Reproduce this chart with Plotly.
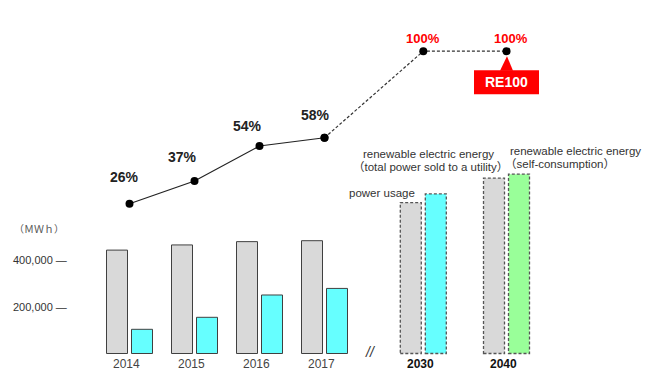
import plotly.graph_objects as go

# ---------------- data ----------------
years = ["2014", "2015", "2016", "2017", "2030", "2040"]
power_usage = [440000, 462000, 476000, 480000, 642000, 746000]
renewable = [103000, 154000, 249000, 277000, 679000, 763000]
re_ratio = [26, 37, 54, 58, 100, 100]
ratio_labels = ["26%", "37%", "54%", "58%", "100%", "100%"]
projected = [False, False, False, False, True, True]
y_ticks = [200000, 400000]
y_tick_labels = ["200,000 —", "400,000 —"]
unit_label = "（ＭＷｈ）"
legend_usage = "power usage"
legend_sold = ["renewable electric energy", "（total power sold to a utility）"]
legend_self = ["renewable electric energy", "（self-consumption）"]
target_label = "RE100"

# ---------------- layout constants ----------------
W, H = 650, 378
xpos = [0, 1, 2, 3, 4.52, 5.8]          # group positions (gap for the time break)
BW = 21 / 65                            # bar width in x units
GAP = 4 / 65
FONT = "Arial, 'Liberation Sans', 'Noto Sans CJK JP', sans-serif"
GRAY = "#d9d9d9"
REN_COLORS = ["#66ffff"] * 5 + ["#99ff99"]
OUTLINE = "#404040"
DASH = "3px,2px"

def px(x):
    return x / W

def py(y):
    return 1 - y / H

fig = go.Figure()

# bars
fig.add_trace(go.Bar(
    x=xpos, y=power_usage, width=BW, offset=-BW - GAP / 2,
    marker=dict(color=GRAY,
                line=dict(color=OUTLINE, width=[0 if p else 1 for p in projected])),
    showlegend=False, hoverinfo="skip"))
fig.add_trace(go.Bar(
    x=xpos, y=renewable, width=BW, offset=GAP / 2,
    marker=dict(color=REN_COLORS,
                line=dict(color=OUTLINE, width=[0 if p else 1 for p in projected])),
    showlegend=False, hoverinfo="skip"))

shapes = []
for i, p in enumerate(projected):
    if not p:
        continue
    shapes.append(dict(type="rect", xref="x", yref="y",
                       x0=xpos[i] - BW - GAP / 2, x1=xpos[i] - GAP / 2,
                       y0=0, y1=power_usage[i],
                       line=dict(color="#555555", width=1.3, dash=DASH)))
    shapes.append(dict(type="rect", xref="x", yref="y",
                       x0=xpos[i] + GAP / 2, x1=xpos[i] + GAP / 2 + BW,
                       y0=0, y1=renewable[i],
                       line=dict(color="#555555", width=1.3, dash=DASH)))

# ratio line
n_hist = sum(1 for p in projected if not p)
fig.add_trace(go.Scatter(
    x=xpos[:n_hist], y=re_ratio[:n_hist], yaxis="y2", mode="lines+markers",
    line=dict(color="#222222", width=1.2),
    marker=dict(color="#000000", size=8), showlegend=False, hoverinfo="skip"))
fig.add_trace(go.Scatter(
    x=xpos[n_hist - 1:], y=re_ratio[n_hist - 1:], yaxis="y2", mode="lines+markers",
    line=dict(color="#333333", width=1.2, dash=DASH),
    marker=dict(color="#000000", size=8), showlegend=False, hoverinfo="skip"))

annotations = []

def ann(**kw):
    kw.setdefault("showarrow", False)
    kw.setdefault("xanchor", "center")
    kw.setdefault("yanchor", "middle")
    annotations.append(kw)

# ratio labels
label_shift = [(-5, 27), (-12, 24), (-12, 20), (-9, 23), (0, 13), (4, 13)]
for i, t in enumerate(ratio_labels):
    red = projected[i]
    ann(x=xpos[i], y=re_ratio[i], xref="x", yref="y2", text=f"<b>{t}</b>",
        xshift=label_shift[i][0], yshift=label_shift[i][1],
        font=dict(family=FONT, size=13 if red else 14,
                  color="#ff0000" if red else "#222222"))

# RE100 callout
shapes.append(dict(type="rect", xref="x", yref="y2",
                   xsizemode="pixel", ysizemode="pixel",
                   xanchor=xpos[-1], yanchor=re_ratio[-1],
                   x0=-32.5, x1=32.5, y0=-19, y1=-43,
                   fillcolor="#ff0000", line=dict(width=0)))
shapes.append(dict(type="path", xref="x", yref="y2",
                   xsizemode="pixel", ysizemode="pixel",
                   xanchor=xpos[-1], yanchor=re_ratio[-1],
                   path="M -6.5,-19.5 L 0.5,-5 L 6.5,-19.5 Z",
                   fillcolor="#ff0000", line=dict(width=0)))
ann(x=xpos[-1], y=re_ratio[-1], xref="x", yref="y2",
    text=f"<b>{target_label}</b>", yshift=-31,
    font=dict(family=FONT, size=14, color="#ffffff"))

# year labels
for i, yr in enumerate(years):
    bold = projected[i]
    ann(x=xpos[i], y=py(363.5), xref="x", yref="paper",
        text=f"<b>{yr}</b>" if bold else yr, xshift=-3,
        font=dict(family=FONT, size=12, color="#111111" if bold else "#444444"))

# axis break mark
ann(x=px(370), y=py(352), xref="paper", yref="paper", text="<i>//</i>",
    font=dict(family=FONT, size=14, color="#333333"))

# y tick labels and unit
for v, t in zip(y_ticks, y_tick_labels):
    ann(x=px(69), y=v, xref="paper", yref="y", text=t, xanchor="right",
        font=dict(family=FONT, size=11, color="#333333"))
ann(x=px(12), y=py(228), xref="paper", yref="paper", text=unit_label,
    xanchor="left",
    font=dict(family="'Noto Sans CJK JP', sans-serif", size=10, color="#555555"))

# legend-like labels
lf = dict(family=FONT, size=11.5, color="#333333")
ann(x=px(417), y=py(193), xref="paper", yref="paper", text=legend_usage,
    xanchor="right", font=lf)
ann(x=px(428.5), y=py(154), xref="paper", yref="paper", text=legend_sold[0], font=lf)
ann(x=px(430), y=py(167), xref="paper", yref="paper", text=legend_sold[1], font=lf)
ann(x=px(508), y=py(151), xref="paper", yref="paper", text=legend_self[0],
    xanchor="left", font=lf)
ann(x=px(503), y=py(163.5), xref="paper", yref="paper", text=legend_self[1],
    xanchor="left", font=lf)

fig.update_layout(
    width=W, height=H, margin=dict(l=0, r=0, t=0, b=0),
    paper_bgcolor="white", plot_bgcolor="white",
    barmode="overlay", showlegend=False,
    xaxis=dict(range=[-129.5 / 65, (W - 129.5) / 65], visible=False, fixedrange=True),
    yaxis=dict(range=[-104255, 1504255], visible=False, fixedrange=True),
    yaxis2=dict(range=[-58.5, 124.8], overlaying="y", visible=False, fixedrange=True),
    shapes=shapes, annotations=annotations,
)

fig.write_html("out.html", config={"displayModeBar": False})
